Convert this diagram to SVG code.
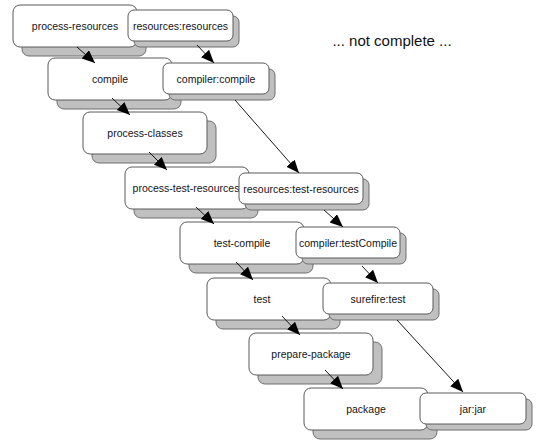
<svg xmlns="http://www.w3.org/2000/svg" width="539" height="444" viewBox="0 0 539 444">
<style>
.sh{fill:#c0c0c0;stroke:#6e6e6e;stroke-width:1}
.bx{fill:#fff;stroke:#5a5a5a;stroke-width:1}
.t{font-family:"Liberation Sans",Arial,sans-serif;font-size:10.5px;fill:#141420;text-anchor:middle;dominant-baseline:central}
.c{stroke:#000;stroke-width:0.9;fill:none;marker-end:url(#ah)}
</style>
<defs>
<marker id="ah" markerUnits="userSpaceOnUse" markerWidth="14" markerHeight="12" refX="13" refY="5.5" orient="auto">
<path d="M0,0 L13,5.5 L0,11 Z" fill="#000"/>
</marker>
</defs>
<rect width="539" height="444" fill="#fff"/>
<g id="phase-process-resources"><rect class="sh" x="22" y="14" width="124" height="42" rx="7"/><rect class="bx" x="13" y="5" width="124" height="42" rx="7"/><text class="t" x="75" y="26">process-resources</text></g>
<g id="goal-resources-resources"><rect class="sh" x="134" y="16" width="105" height="31" rx="6"/><rect class="bx" x="128" y="10" width="105" height="31" rx="6"/><text class="t" x="180.5" y="25.5">resources:resources</text></g>
<g id="phase-compile"><rect class="sh" x="57" y="67" width="124" height="42" rx="7"/><rect class="bx" x="48" y="58" width="124" height="42" rx="7"/><text class="t" x="110" y="79">compile</text></g>
<g id="goal-compiler-compile"><rect class="sh" x="169" y="69" width="106" height="31" rx="6"/><rect class="bx" x="163" y="63" width="106" height="31" rx="6"/><text class="t" x="216" y="78.5">compiler:compile</text></g>
<g id="phase-process-classes"><rect class="sh" x="92" y="121" width="124" height="42" rx="7"/><rect class="bx" x="83" y="112" width="124" height="42" rx="7"/><text class="t" x="145" y="133">process-classes</text></g>
<g id="phase-process-test-resources"><rect class="sh" x="134" y="176" width="124" height="42" rx="7"/><rect class="bx" x="125" y="167" width="124" height="42" rx="7"/><text class="t" x="186" y="188">process-test-resources</text></g>
<g id="goal-resources-test-resources"><rect class="sh" x="245" y="179" width="124" height="31" rx="6"/><rect class="bx" x="239" y="173" width="124" height="31" rx="6"/><text class="t" x="301" y="188.5">resources:test-resources</text></g>
<g id="phase-test-compile"><rect class="sh" x="189" y="231" width="124" height="42" rx="7"/><rect class="bx" x="180" y="222" width="124" height="42" rx="7"/><text class="t" x="242" y="243">test-compile</text></g>
<g id="goal-compiler-testCompile"><rect class="sh" x="302" y="233" width="104" height="31" rx="6"/><rect class="bx" x="296" y="227" width="104" height="31" rx="6"/><text class="t" x="348" y="242.5">compiler:testCompile</text></g>
<g id="phase-test"><rect class="sh" x="216" y="287" width="124" height="42" rx="7"/><rect class="bx" x="207" y="278" width="124" height="42" rx="7"/><text class="t" x="262" y="299">test</text></g>
<g id="goal-surefire-test"><rect class="sh" x="329" y="289" width="110" height="31" rx="6"/><rect class="bx" x="323" y="283" width="110" height="31" rx="6"/><text class="t" x="378" y="298.5">surefire:test</text></g>
<g id="phase-prepare-package"><rect class="sh" x="258" y="342" width="124" height="42" rx="7"/><rect class="bx" x="249" y="333" width="124" height="42" rx="7"/><text class="t" x="311" y="354">prepare-package</text></g>
<g id="phase-package"><rect class="sh" x="313" y="397" width="124" height="42" rx="7"/><rect class="bx" x="304" y="388" width="124" height="42" rx="7"/><text class="t" x="366" y="409">package</text></g>
<g id="goal-jar-jar"><rect class="sh" x="426" y="399" width="106" height="31" rx="6"/><rect class="bx" x="420" y="393" width="106" height="31" rx="6"/><text class="t" x="473" y="408.5">jar:jar</text></g>
<text x="392" y="46" font-family="Liberation Sans, Arial, sans-serif" font-size="15" fill="#111" text-anchor="middle">... not complete ...</text>
<g id="connectors">
<line class="c" x1="77" y1="47" x2="95" y2="63"/>
<line class="c" x1="112" y1="98" x2="130" y2="115"/>
<line class="c" x1="149" y1="152" x2="167" y2="170"/>
<line class="c" x1="196" y1="207" x2="214" y2="224"/>
<line class="c" x1="236" y1="262" x2="253" y2="280"/>
<line class="c" x1="282" y1="316" x2="300" y2="335"/>
<line class="c" x1="325" y1="370" x2="343" y2="389"/>
<line class="c" x1="197" y1="45" x2="214" y2="63"/>
<line class="c" x1="235" y1="100" x2="299" y2="173"/>
<line class="c" x1="324" y1="210" x2="343" y2="227"/>
<line class="c" x1="362" y1="266" x2="378" y2="283"/>
<line class="c" x1="397" y1="320" x2="463" y2="392"/>
</g>
</svg>
